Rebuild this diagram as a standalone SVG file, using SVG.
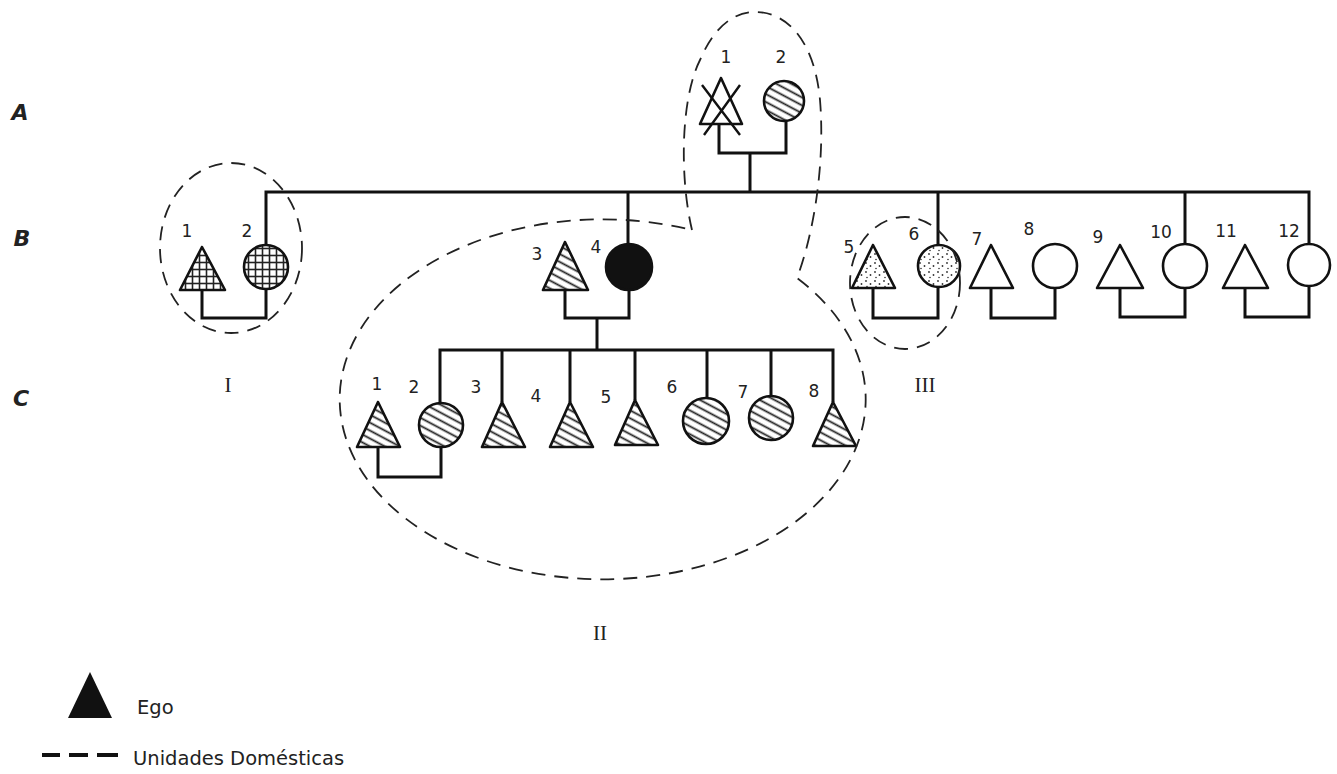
<svg xmlns="http://www.w3.org/2000/svg" width="1337" height="774" viewBox="0 0 1337 774">
<style>
.sym{stroke:#111;stroke-width:2.6;stroke-linejoin:round}
.ln{fill:none;stroke:#111;stroke-width:3}
.unit{fill:none;stroke:#222;stroke-width:1.8;stroke-dasharray:14 9}
.num{font-family:"DejaVu Sans","Liberation Sans",sans-serif;font-size:17px;fill:#222;text-anchor:middle}
.gen{font-family:"DejaVu Sans","Liberation Sans",sans-serif;font-size:22px;font-style:italic;font-weight:bold;fill:#222;text-anchor:middle}
.rom{font-family:"Liberation Serif","DejaVu Serif",serif;font-size:21px;fill:#222;text-anchor:middle}
.leg{font-family:"DejaVu Sans","Liberation Sans",sans-serif;font-size:19.5px;fill:#222}
</style>
<defs>
<pattern id="hatch" patternUnits="userSpaceOnUse" width="7" height="7" patternTransform="rotate(28)">
<rect width="7" height="7" fill="#fff"/>
<line x1="0" y1="3.5" x2="7" y2="3.5" stroke="#222" stroke-width="1.8"/>
</pattern>
<pattern id="cross" patternUnits="userSpaceOnUse" width="7" height="7">
<rect width="7" height="7" fill="#fff"/>
<line x1="0" y1="3.5" x2="7" y2="3.5" stroke="#222" stroke-width="1.6"/>
<line x1="3.5" y1="0" x2="3.5" y2="7" stroke="#222" stroke-width="1.6"/>
</pattern>
<pattern id="dots" patternUnits="userSpaceOnUse" width="9" height="9">
<rect width="9" height="9" fill="#fff"/>
<circle cx="2" cy="2" r="0.9" fill="#333"/>
<circle cx="6.5" cy="5" r="0.9" fill="#333"/>
<circle cx="3" cy="7.5" r="0.8" fill="#333"/>
</pattern>
</defs>
<rect width="1337" height="774" fill="#fff"/>

<g id="generations">
<text class="gen" x="20" y="120">A</text>
<text class="gen" x="22" y="246">B</text>
<text class="gen" x="21" y="406">C</text>
</g>

<g id="connectors">
<path class="ln" d="M719 124 V153 H786 V121"/>
<path class="ln" d="M750 153 V192"/>
<path class="ln" d="M266 245 V192 H1309 V244"/>
<path class="ln" d="M628 192 V244"/>
<path class="ln" d="M938 192 V245"/>
<path class="ln" d="M1185 192 V244"/>
<path class="ln" d="M202 290 V318 H266 V289"/>
<path class="ln" d="M565 290 V318 H629 V290"/>
<path class="ln" d="M873 288 V318 H938 V287"/>
<path class="ln" d="M991 288 V318 H1055 V288"/>
<path class="ln" d="M1120 288 V317 H1185 V288"/>
<path class="ln" d="M1245 288 V317 H1309 V286"/>
<path class="ln" d="M597 318 V350"/>
<path class="ln" d="M440 403 V350 H833 V402"/>
<path class="ln" d="M502 350 V402"/>
<path class="ln" d="M570 350 V402"/>
<path class="ln" d="M635 350 V400"/>
<path class="ln" d="M707 350 V398"/>
<path class="ln" d="M771 350 V396"/>
<path class="ln" d="M378 447 V477 H441 V447"/>
</g>

<g id="A1"><polygon class="sym" points="721,78 700,124 742,124" fill="#fff"/><path d="M702 85 L740 135 M740 85 L704 135" stroke="#111" stroke-width="2.4"/><text class="num" x="726" y="63">1</text></g>
<g id="A2"><circle class="sym" cx="784" cy="101" r="20" fill="url(#hatch)"/><text class="num" x="781" y="63">2</text></g>

<g id="B1"><polygon class="sym" points="202,247 180,290 225,290" fill="url(#cross)"/><text class="num" x="187" y="237">1</text></g>
<g id="B2"><circle class="sym" cx="266" cy="267" r="22" fill="url(#cross)"/><text class="num" x="247" y="237">2</text></g>
<g id="B3"><polygon class="sym" points="565,242 543,290 588,290" fill="url(#hatch)"/><text class="num" x="537" y="260">3</text></g>
<g id="B4"><circle class="sym" cx="629" cy="267" r="23" fill="#111"/><text class="num" x="596" y="253">4</text></g>
<g id="B5"><polygon class="sym" points="873,245 852,288 895,288" fill="url(#dots)"/><text class="num" x="849" y="253">5</text></g>
<g id="B6"><circle class="sym" cx="939" cy="266" r="21" fill="url(#dots)"/><text class="num" x="914" y="240">6</text></g>
<g id="B7"><polygon class="sym" points="991,245 970,288 1013,288" fill="#fff"/><text class="num" x="977" y="245">7</text></g>
<g id="B8"><circle class="sym" cx="1055" cy="266" r="22" fill="#fff"/><text class="num" x="1029" y="235">8</text></g>
<g id="B9"><polygon class="sym" points="1120,245 1097,288 1143,288" fill="#fff"/><text class="num" x="1098" y="243">9</text></g>
<g id="B10"><circle class="sym" cx="1185" cy="266" r="22" fill="#fff"/><text class="num" x="1161" y="238">10</text></g>
<g id="B11"><polygon class="sym" points="1245,245 1223,288 1268,288" fill="#fff"/><text class="num" x="1226" y="237">11</text></g>
<g id="B12"><circle class="sym" cx="1309" cy="265" r="21" fill="#fff"/><text class="num" x="1289" y="237">12</text></g>

<g id="C1"><polygon class="sym" points="378,402 357,447 400,447" fill="url(#hatch)"/><text class="num" x="377" y="390">1</text></g>
<g id="C2"><circle class="sym" cx="441" cy="425" r="22" fill="url(#hatch)"/><text class="num" x="414" y="393">2</text></g>
<g id="C3"><polygon class="sym" points="502,402 482,447 525,447" fill="url(#hatch)"/><text class="num" x="476" y="393">3</text></g>
<g id="C4"><polygon class="sym" points="570,402 550,447 593,447" fill="url(#hatch)"/><text class="num" x="536" y="402">4</text></g>
<g id="C5"><polygon class="sym" points="635,400 615,445 658,445" fill="url(#hatch)"/><text class="num" x="606" y="403">5</text></g>
<g id="C6"><circle class="sym" cx="706" cy="421" r="23" fill="url(#hatch)"/><text class="num" x="672" y="393">6</text></g>
<g id="C7"><circle class="sym" cx="771" cy="418" r="22" fill="url(#hatch)"/><text class="num" x="743" y="398">7</text></g>
<g id="C8"><polygon class="sym" points="833,402 813,446 856,446" fill="url(#hatch)"/><text class="num" x="814" y="397">8</text></g>

<g id="units">
<ellipse class="unit" cx="231" cy="248" rx="71" ry="85"/>
<ellipse class="unit" cx="905" cy="283" rx="55" ry="66"/>
<path class="unit" d="M692 230 C680 180 680 100 700 60 C715 25 735 12 755 12 C790 12 815 45 820 100 C825 160 815 230 797 278 A263 180 0 1 1 692 230 Z"/>
<text class="rom" x="228" y="392">I</text>
<text class="rom" x="600" y="640">II</text>
<text class="rom" x="925" y="392">III</text>
</g>

<g id="legend">
<polygon points="90,672 68,718 112,718" fill="#111"/>
<text class="leg" x="137" y="714">Ego</text>
<path d="M42 755 H60 M69 755 H88 M97 755 H118" stroke="#111" stroke-width="4"/>
<text class="leg" x="133" y="765">Unidades Domésticas</text>
</g>
</svg>
